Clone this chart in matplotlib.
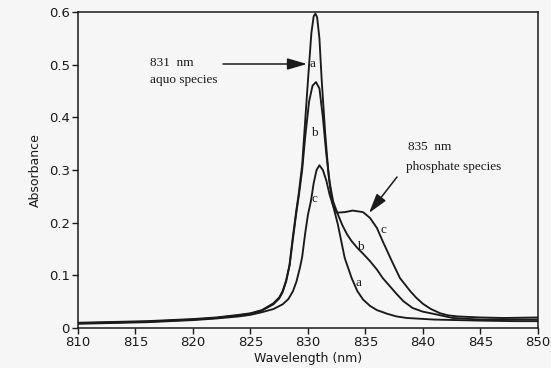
import numpy as np
import matplotlib
matplotlib.use('Agg')
import matplotlib.pyplot as plt
from matplotlib.ticker import FuncFormatter

# Spectra (wavelength in nm, absorbance)
wl_a = [810, 812, 814, 816, 818, 820, 822, 824, 825, 826, 827, 827.5, 827.8, 828.1,
        828.4, 828.7, 829.0, 829.2, 829.5, 829.75, 830.1, 830.3, 830.5, 830.65, 830.8,
        831.0, 831.2, 831.5, 831.8, 832.1, 832.6, 833.2, 833.8, 834.3, 834.8, 835.4,
        836.0, 836.9, 837.7, 838.6, 841, 845, 848, 850]
abs_a = [0.010, 0.011, 0.012, 0.013, 0.015, 0.017, 0.020, 0.025, 0.028, 0.034, 0.047,
         0.058, 0.070, 0.090, 0.120, 0.175, 0.225, 0.255, 0.310, 0.390, 0.500, 0.560,
         0.592, 0.597, 0.590, 0.550, 0.470, 0.370, 0.290, 0.240, 0.197, 0.133, 0.095,
         0.070, 0.054, 0.042, 0.034, 0.027, 0.022, 0.019, 0.016, 0.014, 0.013, 0.013]

wl_b = [810, 812, 814, 816, 818, 820, 822, 824, 825, 826, 827, 827.5, 827.8, 828.1,
        828.4, 828.7, 829.0, 829.2, 829.5, 829.75, 830.1, 830.4, 830.7, 831.0, 831.3,
        831.6, 831.9, 832.2, 832.6, 833.0, 833.4, 833.8, 834.3, 834.8, 835.4, 836.0,
        836.5, 837.1, 837.7, 838.3, 839.1, 840.0, 840.9, 842.6, 845, 847, 850]
abs_b = [0.009, 0.010, 0.011, 0.012, 0.014, 0.016, 0.019, 0.024, 0.027, 0.033, 0.045,
         0.056, 0.068, 0.088, 0.118, 0.170, 0.220, 0.250, 0.300, 0.360, 0.430, 0.460,
         0.467, 0.455, 0.400, 0.330, 0.275, 0.240, 0.216, 0.195, 0.178, 0.165, 0.152,
         0.141, 0.127, 0.111, 0.095, 0.080, 0.065, 0.051, 0.038, 0.031, 0.027, 0.019,
         0.016, 0.016, 0.016]

wl_c = [810, 812, 814, 816, 818, 820, 822, 824, 825, 826, 827, 827.8, 828.3, 828.7,
        829.0, 829.3, 829.5, 829.75, 830.0, 830.26, 830.5, 830.75, 831.0, 831.3, 831.6,
        831.9, 832.2, 832.5, 833.2, 833.9, 834.8, 835.4, 836.0, 836.5, 837.3, 838.0,
        838.9, 839.4, 840.0, 840.7, 841.5, 842.2, 843, 845, 847, 850]
abs_c = [0.008, 0.009, 0.010, 0.011, 0.013, 0.015, 0.018, 0.022, 0.025, 0.030, 0.036,
         0.045, 0.055, 0.070, 0.088, 0.114, 0.135, 0.178, 0.215, 0.241, 0.275, 0.300,
         0.309, 0.300, 0.280, 0.252, 0.232, 0.219, 0.220, 0.223, 0.220, 0.209, 0.190,
         0.165, 0.127, 0.095, 0.070, 0.058, 0.046, 0.036, 0.028, 0.024, 0.022, 0.020,
         0.019, 0.020]

x_ticks = [810, 815, 820, 825, 830, 835, 840, 845, 850]
y_ticks = [0, 0.1, 0.2, 0.3, 0.4, 0.5, 0.6]

bg = '#f6f6f6'
ink = '#1a1a1a'

fig = plt.figure(figsize=(5.51, 3.68), dpi=100, facecolor=bg)
ax = fig.add_axes([0.1416, 0.1087, 0.8345, 0.8586], facecolor=bg)

for wl, ab in [(wl_a, abs_a), (wl_b, abs_b), (wl_c, abs_c)]:
    ax.plot(wl, ab, color=ink, linewidth=1.35)

ax.set_xlim(810, 850)
ax.set_ylim(0, 0.6)
ax.set_xticks(x_ticks)
ax.set_yticks(y_ticks)
ax.yaxis.set_major_formatter(FuncFormatter(lambda v, p: '0' if v == 0 else f'{v:.1f}'))
ax.tick_params(direction='out', length=4, width=1, color=ink, labelsize=9.5,
               labelcolor=ink, pad=2)
for s in ax.spines.values():
    s.set_color(ink)
    s.set_linewidth(1.1)

ax.set_xlabel('Wavelength (nm)', fontsize=9, color=ink, labelpad=2)
ax.set_ylabel('Absorbance', fontsize=9, color=ink, labelpad=5)

serif = dict(family='Liberation Serif', fontsize=9.5, color=ink)

# curve letters
def pix(px, py):
    return ((px) / 551, 1 - py / 368)

for txt, (px, py) in [('a', (313, 64)), ('b', (314, 133)), ('c', (314, 199)),
                      ('c', (383, 230)), ('b', (360, 247)), ('a', (358, 283))]:
    fig.text(*pix(px, py), txt, ha='center', va='center', **serif)

fig.text(*pix(150, 63), '831  nm', ha='left', va='center', **serif)
fig.text(*pix(150, 80), 'aquo species', ha='left', va='center', **serif)
fig.text(*pix(408, 147), '835  nm', ha='left', va='center', **serif)
fig.text(*pix(406, 167), 'phosphate species', ha='left', va='center', **serif)

arrow = dict(arrowstyle='-|>,head_length=1.2,head_width=0.35', color=ink, lw=1.1,
             shrinkA=0, shrinkB=0)
ax.annotate('', xy=pix(307, 64), xytext=pix(223, 64), xycoords='figure fraction',
            textcoords='figure fraction', arrowprops=arrow)
ax.annotate('', xy=pix(369, 213), xytext=pix(397, 177), xycoords='figure fraction',
            textcoords='figure fraction', arrowprops=arrow)

fig.savefig('out.png', dpi=100, facecolor=bg)
